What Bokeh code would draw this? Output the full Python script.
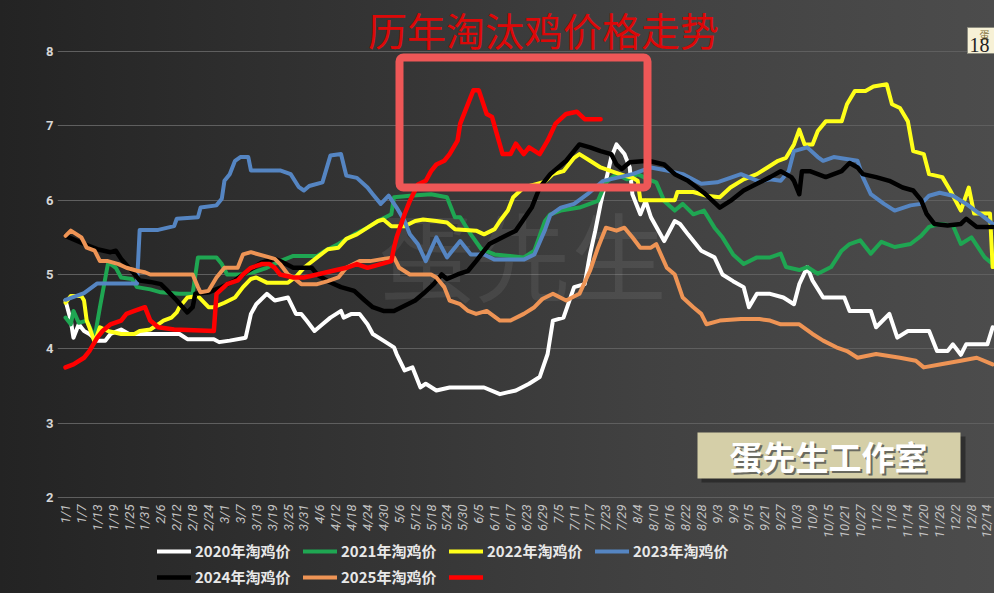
import math
from datetime import date, timedelta

from bokeh.plotting import figure
from bokeh.models import (Range1d, FixedTicker, Legend, LegendItem, Label,
                          BoxAnnotation)
from bokeh.core.properties import value
from bokeh.embed import file_html
from bokeh.resources import INLINE

# ---------------- data (day index from 1/1 in a leap-year calendar) ----------------
D2020 = [0, 2, 3, 5, 7, 9, 12, 15, 17, 21, 24, 43, 46, 56, 58, 62, 68, 70, 72, 76, 79, 84, 87, 89,
         91, 94, 97, 100, 104, 105, 108, 111, 114, 116, 120, 124, 125, 128, 131, 134, 136, 140, 145,
         158, 164, 170, 175, 179, 182, 184, 188, 192, 196, 198, 200, 202, 204, 206, 208, 211, 213,
         214, 217, 219, 221, 226, 230, 232, 235, 240, 245, 248, 252, 256, 258, 261, 266, 271, 275,
         277, 280, 282, 286, 294, 296, 304, 306, 311, 314, 318, 326, 329, 333, 335, 338, 340, 348, 350]
V2020 = [4.65, 4.38, 4.15, 4.33, 4.24, 4.2, 4.11, 4.11, 4.2, 4.26, 4.2, 4.2, 4.13, 4.13, 4.09, 4.11,
         4.15, 4.47, 4.6, 4.74, 4.65, 4.69, 4.47, 4.47, 4.38, 4.24, 4.33, 4.42, 4.51, 4.42, 4.47, 4.47,
         4.33, 4.2, 4.11, 4.02, 3.93, 3.71, 3.75, 3.48, 3.53, 3.44, 3.48, 3.48, 3.39, 3.44, 3.53, 3.62,
         3.93, 4.38, 4.42, 4.83, 4.87, 5.27, 5.59, 5.95, 6.26, 6.57, 6.75, 6.62, 6.44, 6.08, 5.81, 5.99,
         5.77, 5.45, 5.72, 5.68, 5.54, 5.32, 5.23, 5.0, 4.91, 4.83, 4.56, 4.74, 4.74, 4.69, 4.6, 4.87,
         5.1, 4.92, 4.69, 4.69, 4.51, 4.51, 4.29, 4.47, 4.15, 4.24, 4.24, 3.97, 3.97, 4.06, 3.92, 4.06,
         4.06, 4.29]

D2021 = [0, 2, 3, 5, 8, 11, 13, 16, 17, 19, 21, 25, 27, 32, 36, 43, 48, 50, 57, 59, 61, 66, 71, 76,
         81, 86, 95, 98, 103, 109, 114, 118, 123, 124, 130, 138, 144, 147, 149, 153, 157, 162, 173,
         177, 181, 183, 187, 194, 201, 204, 208, 212, 216, 220, 223, 226, 230, 233, 237, 241, 245,
         248, 252, 256, 261, 266, 270, 272, 277, 280, 284, 289, 293, 296, 300, 304, 308, 313, 319,
         323, 326, 330, 335, 338, 342, 347, 350]
V2021 = [4.42, 4.33, 4.51, 4.35, 4.38, 4.15, 4.56, 5.14, 5.14, 5.09, 4.96, 4.94, 4.83, 4.8, 4.76,
         4.74, 4.74, 5.23, 5.23, 5.14, 5.0, 5.0, 5.03, 5.09, 5.18, 5.25, 5.25, 5.32, 5.41, 5.54, 5.63,
         5.72, 5.81, 6.04, 6.06, 6.08, 6.04, 5.77, 5.77, 5.54, 5.34, 5.27, 5.23, 5.32, 5.72, 5.81,
         5.86, 5.9, 5.99, 6.24, 6.35, 6.28, 6.35, 6.28, 6.24, 5.99, 5.86, 5.95, 5.81, 5.86, 5.63, 5.5,
         5.27, 5.14, 5.23, 5.23, 5.28, 5.1, 5.06, 5.1, 5.01, 5.1, 5.32, 5.41, 5.46, 5.28, 5.44, 5.37,
         5.41, 5.52, 5.64, 5.68, 5.66, 5.41, 5.5, 5.23, 5.14]

D2022 = [0, 2, 6, 7, 8, 9, 11, 13, 16, 21, 26, 28, 32, 35, 37, 40, 42, 43, 46, 50, 54, 56, 60, 64,
         67, 70, 72, 76, 84, 87, 90, 95, 99, 103, 106, 110, 114, 118, 120, 123, 128, 132, 135, 140,
         144, 147, 155, 158, 162, 164, 167, 169, 173, 178, 181, 184, 188, 192, 194, 198, 202, 206,
         211, 214, 216, 217, 230, 231, 237, 242, 247, 251, 256, 261, 265, 269, 272, 275, 277, 279,
         282, 284, 287, 293, 295, 298, 302, 305, 310, 312, 315, 318, 320, 324, 326, 331, 334, 338,
         341, 343, 349, 350]
V2022 = [4.62, 4.71, 4.71, 4.65, 4.38, 4.29, 4.09, 4.29, 4.24, 4.2, 4.2, 4.24, 4.26, 4.33, 4.38,
         4.42, 4.49, 4.56, 4.69, 4.71, 4.56, 4.56, 4.62, 4.69, 4.83, 4.94, 4.96, 4.89, 4.89, 4.97,
         5.09, 5.23, 5.34, 5.36, 5.48, 5.54, 5.63, 5.72, 5.74, 5.65, 5.65, 5.72, 5.74, 5.72, 5.7,
         5.61, 5.59, 5.54, 5.61, 5.72, 5.86, 6.04, 6.17, 6.22, 6.25, 6.35, 6.39, 6.57, 6.62, 6.53,
         6.44, 6.39, 6.33, 6.3, 6.26, 6.0, 6.0, 6.11, 6.11, 6.06, 6.04, 6.17, 6.28, 6.35, 6.44, 6.53,
         6.57, 6.75, 6.95, 6.75, 6.75, 6.93, 7.06, 7.06, 7.29, 7.47, 7.47, 7.53, 7.56, 7.29, 7.24,
         7.06, 6.66, 6.62, 6.35, 6.31, 6.13, 5.86, 6.17, 5.82, 5.82, 5.1]

D2023 = [0, 7, 12, 27, 28, 35, 41, 42, 50, 51, 57, 59, 60, 62, 64, 66, 69, 70, 81, 85, 88, 90, 92,
         97, 100, 104, 106, 110, 114, 116, 119, 122, 125, 128, 130, 133, 136, 140, 144, 149, 153,
         158, 162, 173, 177, 181, 183, 187, 192, 197, 203, 208, 214, 221, 227, 233, 240, 246, 255,
         262, 266, 270, 273, 275, 280, 284, 286, 290, 299, 301, 304, 309, 313, 319, 323, 326, 330,
         335, 340, 345, 350]
V2023 = [4.66, 4.75, 4.88, 4.88, 5.6, 5.6, 5.65, 5.75, 5.77, 5.9, 5.93, 6.02, 6.26, 6.35, 6.53,
         6.58, 6.58, 6.4, 6.4, 6.35, 6.18, 6.13, 6.19, 6.24, 6.6, 6.62, 6.33, 6.3, 6.17, 6.08, 5.95,
         6.06, 5.9, 5.72, 5.54, 5.41, 5.18, 5.5, 5.23, 5.45, 5.27, 5.27, 5.2, 5.2, 5.27, 5.6, 5.8,
         5.9, 5.95, 6.08, 6.26, 6.3, 6.35, 6.44, 6.4, 6.35, 6.22, 6.24, 6.35, 6.25, 6.28, 6.26, 6.39,
         6.66, 6.71, 6.58, 6.53, 6.58, 6.53, 6.31, 6.08, 5.95, 5.86, 5.93, 5.95, 6.06, 6.1, 6.06,
         5.95, 5.82, 5.68]

D2024 = [0, 7, 12, 17, 19, 21, 25, 28, 32, 36, 38, 42, 46, 48, 49, 54, 59, 64, 69, 74, 79, 81, 86,
         89, 93, 95, 99, 104, 109, 113, 116, 120, 124, 128, 132, 135, 139, 142, 144, 148, 152, 155,
         160, 165, 170, 176, 179, 183, 189, 194, 198, 202, 206, 208, 210, 213, 220, 226, 230, 235,
         241, 247, 251, 256, 261, 266, 270, 274, 275, 277, 278, 281, 287, 293, 296, 299, 301, 306,
         311, 316, 320, 323, 325, 328, 333, 338, 340, 344, 350]
V2024 = [5.52, 5.41, 5.34, 5.3, 5.32, 5.21, 5.05, 4.92, 4.9, 4.87, 4.8, 4.65, 4.49, 4.56, 4.74,
         4.76, 4.83, 4.92, 5.05, 5.16, 5.21, 5.18, 5.09, 5.09, 5.09, 5.0, 4.91, 4.83, 4.78, 4.65,
         4.56, 4.51, 4.51, 4.58, 4.65, 4.74, 4.87, 5.0, 4.94, 5.0, 5.05, 5.18, 5.41, 5.5, 5.59, 5.9,
         6.17, 6.35, 6.53, 6.75, 6.71, 6.66, 6.62, 6.48, 6.42, 6.51, 6.53, 6.48, 6.35, 6.26, 6.1, 5.9,
         5.99, 6.13, 6.22, 6.31, 6.39, 6.31, 6.26, 6.08, 6.39, 6.39, 6.31, 6.39, 6.5, 6.44, 6.35,
         6.31, 6.26, 6.17, 6.13, 6.0, 5.82, 5.68, 5.66, 5.68, 5.75, 5.64, 5.64]

D2025 = [0, 2, 6, 8, 11, 13, 16, 20, 23, 27, 30, 32, 48, 50, 51, 54, 57, 60, 65, 67, 70, 75, 79, 81,
         84, 86, 89, 95, 99, 103, 106, 111, 115, 120, 124, 126, 130, 138, 140, 143, 145, 149, 152,
         155, 159, 164, 168, 173, 177, 180, 184, 189, 194, 198, 201, 202, 204, 208, 211, 214, 217,
         221, 223, 227, 230, 233, 237, 240, 242, 247, 255, 262, 266, 270, 277, 282, 286, 291, 295,
         299, 306, 315, 321, 324, 330, 338, 344, 350]
V2025 = [5.52, 5.59, 5.5, 5.36, 5.32, 5.18, 5.18, 5.14, 5.09, 5.05, 5.03, 5.0, 5.0, 4.83, 4.76,
         4.78, 4.96, 5.09, 5.09, 5.27, 5.3, 5.25, 5.21, 5.14, 5.0, 4.96, 4.87, 4.87, 4.91, 4.96, 5.09,
         5.18, 5.18, 5.21, 5.23, 5.09, 5.0, 5.0, 4.96, 4.83, 4.65, 4.6, 4.51, 4.47, 4.51, 4.38, 4.38,
         4.47, 4.56, 4.67, 4.74, 4.65, 4.74, 5.05, 5.36, 5.45, 5.63, 5.59, 5.63, 5.5, 5.36, 5.36, 5.41,
         5.09, 5.0, 4.69, 4.56, 4.47, 4.33, 4.38, 4.4, 4.4, 4.38, 4.33, 4.33, 4.2, 4.11, 4.02, 3.97,
         3.88, 3.93, 3.88, 3.84, 3.75, 3.79, 3.84, 3.88, 3.79]

D_RED = [0, 3, 7, 9, 12, 14, 17, 21, 23, 26, 30, 32, 35, 41, 56, 57, 61, 65, 67, 70, 74, 77, 79, 81,
         86, 90, 95, 101, 106, 110, 114, 119, 123, 124, 125, 128, 130, 133, 136, 138, 140, 143, 145,
         148, 149, 154, 156, 159, 161, 165, 168, 170, 173, 175, 179, 182, 185, 189, 193, 196, 202]
V_RED = [3.75, 3.79, 3.88, 3.97, 4.15, 4.24, 4.33, 4.38, 4.47, 4.51, 4.56, 4.38, 4.29, 4.26, 4.24,
         4.74, 4.87, 4.92, 5.0, 5.09, 5.14, 5.14, 5.09, 5.0, 4.96, 4.96, 5.0, 5.05, 5.09, 5.14, 5.09,
         5.14, 5.18, 5.36, 5.5, 5.81, 5.99, 6.21, 6.26, 6.39, 6.48, 6.53, 6.62, 6.8, 7.03, 7.48, 7.48,
         7.16, 7.12, 6.62, 6.62, 6.76, 6.62, 6.71, 6.62, 6.8, 7.03, 7.16, 7.19, 7.09, 7.09]

SERIES_NAMES = ["2020年淘鸡价", "2021年淘鸡价", "2022年淘鸡价", "2023年淘鸡价",
                "2024年淘鸡价", "2025年淘鸡价", " "]
Y_TICKS = [2, 3, 4, 5, 6, 7, 8]
X_TICKS = list(range(0, 349, 6))
X_TICK_LABELS = [f"{d.month}/{d.day}" for d in
                 (date(2024, 1, 1) + timedelta(days=k) for k in X_TICKS)]

TITLE = "历年淘汰鸡价格走势"
WATERMARK = "蛋先生"
STUDIO = "蛋先生工作室"
TAG_TOP = "蛋"
TAG_NUM = "18"

# ---------------- layout (frame covers the whole page height) ----------------
W, H = 994, 593
FRAME_L = 57
DAY0_PX = 65
PX_DAY = 2.649
PX_UNIT = 74.33
Y8_PX = 51            # page y of the value 8

x_start = (FRAME_L - DAY0_PX) / PX_DAY
x_end = x_start + (W - FRAME_L) / PX_DAY
y_end = 8 + Y8_PX / PX_UNIT
y_start = y_end - H / PX_UNIT


def X(px):   # page pixel -> data x
    return (px - DAY0_PX) / PX_DAY


def Y(py):   # page pixel -> data y
    return 8 - (py - Y8_PX) / PX_UNIT


p = figure(width=W, height=H, output_backend="svg", toolbar_location=None, title=None,
           x_range=Range1d(x_start, x_end), y_range=Range1d(y_start, y_end),
           min_border_left=FRAME_L, min_border_right=0, min_border_top=0,
           min_border_bottom=0,
           styles={"background": "linear-gradient(to right, #232323 0%, #333333 35%, #414141 65%, #4c4c4c 100%)"})
p.background_fill_alpha = 0
p.border_fill_alpha = 0
p.outline_line_color = None

# axes
p.yaxis.ticker = FixedTicker(ticks=Y_TICKS)
p.yaxis.axis_line_color = None
p.yaxis.major_tick_line_color = None
p.yaxis.minor_tick_line_color = None
p.yaxis.major_tick_out = 0
p.yaxis.major_label_standoff = 4
p.yaxis.major_label_text_color = "#d6d6d6"
p.yaxis.major_label_text_font = "Roboto"
p.yaxis.major_label_text_font_style = "bold"
p.yaxis.major_label_text_font_size = "13px"

p.xaxis.fixed_location = 2
p.xaxis.ticker = FixedTicker(ticks=X_TICKS)
p.xaxis.major_label_overrides = {t: s for t, s in zip(X_TICKS, X_TICK_LABELS)}
p.xaxis.major_label_orientation = math.pi / 2
p.xaxis.axis_line_color = None
p.xaxis.major_tick_line_color = None
p.xaxis.minor_tick_line_color = None
p.xaxis.major_tick_out = 0
p.xaxis.major_label_standoff = 7
p.xaxis.major_label_text_color = "#c4c4c4"
p.xaxis.major_label_text_font = "Roboto"
p.xaxis.major_label_text_font_style = "italic"
p.xaxis.major_label_text_font_size = "13px"

p.xgrid.grid_line_color = None
p.ygrid.ticker = FixedTicker(ticks=Y_TICKS)
p.ygrid.grid_line_color = "#5f5f5f"
p.ygrid.grid_line_width = 1

# watermark (behind lines)
p.add_layout(Label(x=X(522), y=Y(252), text=WATERMARK, text_align="center",
                   text_baseline="middle", text_font="Noto Sans CJK SC",
                   text_font_size="96px", text_color="#ffffff", text_alpha=0.07,
                   level="underlay"))

# series
COLORS = ["#ffffff", "#1fa652", "#ffff1a", "#5585c2", "#000000", "#ee9455", "#ff0000"]
DAYS = [D2020, D2021, D2022, D2023, D2024, D2025, D_RED]
VALS = [V2020, V2021, V2022, V2023, V2024, V2025, V_RED]
renderers = []
for d, v, c in zip(DAYS, VALS, COLORS):
    lw = 4.5 if c in ("#ff0000", "#000000") else 4
    r = p.line(d, v, line_color=c, line_width=lw, line_join="round", line_cap="round")
    renderers.append(r)

# highlight box
p.add_layout(BoxAnnotation(left=X(399), right=X(647), top=Y(57), bottom=Y(187),
                           fill_alpha=0, line_color="#ee5757", line_alpha=1, line_width=8,
                           border_radius=4))

# title
p.add_layout(Label(x=X(543), y=Y(28), text=TITLE, text_align="center",
                   text_baseline="middle", text_font="Noto Sans CJK SC",
                   text_font_size="39px", text_color="#dd0808"))

# studio badge
p.add_layout(BoxAnnotation(left=X(701), right=X(965), top=Y(436), bottom=Y(482),
                           fill_color="#1a1a1a", fill_alpha=0.55, line_alpha=0))
p.add_layout(BoxAnnotation(left=X(697), right=X(960), top=Y(432), bottom=Y(478),
                           fill_color="#d5cfa8", fill_alpha=1, line_alpha=0))
p.add_layout(Label(x=X(830), y=Y(457), text=STUDIO, text_align="center",
                   text_baseline="middle", text_font="Noto Sans CJK SC",
                   text_font_style="bold", text_font_size="33px", text_color="#6a6a60"))
p.add_layout(Label(x=X(828), y=Y(455), text=STUDIO, text_align="center",
                   text_baseline="middle", text_font="Noto Sans CJK SC",
                   text_font_style="bold", text_font_size="33px", text_color="#ffffff"))

# top-right corner tag
p.add_layout(BoxAnnotation(left=X(967), right=X(1000), top=Y(27), bottom=Y(53),
                           fill_color="#f7f1d6", fill_alpha=1, line_color="#8c8c80",
                           line_alpha=1, line_width=1))
p.add_layout(Label(x=X(984), y=Y(34), text=TAG_TOP, text_align="center",
                   text_baseline="middle", text_font="Noto Sans CJK SC",
                   text_font_size="10px", text_color="#7d6f3a"))
p.add_layout(Label(x=X(969), y=Y(44), text=TAG_NUM, text_align="left",
                   text_baseline="middle", text_font="Liberation Serif",
                   text_font_size="20px", text_color="#222222"))

# legend (inside the frame, bottom area)
items = [LegendItem(label=value(n), renderers=[r]) for n, r in zip(SERIES_NAMES, renderers)]
legend = Legend(items=items, orientation="horizontal", ncols=4, location=(100, 6),
                glyph_width=34, glyph_height=18, label_standoff=4, label_width=103,
                label_height=20, spacing=5, padding=0, margin=0,
                label_text_font="Noto Sans CJK SC", label_text_font_style="bold",
                label_text_font_size="15px", label_text_color="#e8e8e8",
                background_fill_alpha=0, border_line_alpha=0)
p.add_layout(legend)

open("out.html", "w").write(file_html(p, INLINE, "chart"))
